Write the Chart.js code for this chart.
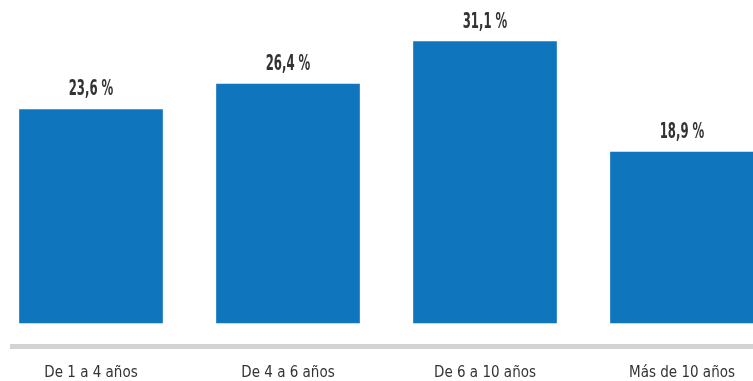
<!DOCTYPE html>
<html>
<head>
<meta charset="utf-8">
<script src="https://cdn.jsdelivr.net/npm/chart.js@4"></script>
<style>
  html, body { margin: 0; padding: 0; background: #fff; }
  #wrap { width: 753px; height: 381px; }
</style>
</head>
<body>
<div id="wrap"><canvas id="chart"></canvas></div>
<script>
const categories = ['De 1 a 4 años', 'De 4 a 6 años', 'De 6 a 10 años', 'Más de 10 años'];
const values = [23.6, 26.4, 31.1, 18.9];

const FONT = "'DejaVu Sans Condensed', sans-serif";

// value labels above the bars + grey baseline under the plot
const decor = {
  id: 'decor',
  afterDatasetsDraw(chart) {
    const ctx = chart.ctx;
    const area = chart.chartArea;
    ctx.save();
    ctx.fillStyle = '#d3d3d3';
    ctx.fillRect(10, area.bottom + 21, chart.width - 10, 5);

    ctx.fillStyle = '#333333';
    ctx.font = 'bold 21px ' + FONT;
    ctx.textAlign = 'center';
    ctx.textBaseline = 'bottom';
    chart.getDatasetMeta(0).data.forEach((bar, i) => {
      ctx.save();
      ctx.translate(bar.x, bar.y - 9);
      ctx.scale(0.62, 1);
      ctx.fillText(values[i].toFixed(1).replace('.', ',') + ' %', 0, 0);
      ctx.restore();
    });
    ctx.restore();
  }
};

new Chart(document.getElementById('chart'), {
  type: 'bar',
  data: {
    labels: categories,
    datasets: [{
      data: values,
      backgroundColor: '#0f75bd',
      borderWidth: 0,
      barThickness: 143,
      clip: false
    }]
  },
  options: {
    responsive: true,
    maintainAspectRatio: false,
    animation: false,
    layout: { padding: { left: 91, right: 71, top: 0, bottom: 0 } },
    plugins: { legend: { display: false }, tooltip: { enabled: false } },
    scales: {
      x: {
        offset: false,
        grid: { display: false, drawTicks: false },
        border: { display: false },
        ticks: { color: '#333333', padding: 41, maxRotation: 0, font: { family: FONT, size: 15 } },
        afterFit(scale) {
          scale.height = 58;
          scale.paddingLeft = 0;
          scale.paddingRight = 0;
        }
      },
      y: { display: false, min: 0, max: 35.7 }
    }
  },
  plugins: [decor]
});
</script>
</body>
</html>
